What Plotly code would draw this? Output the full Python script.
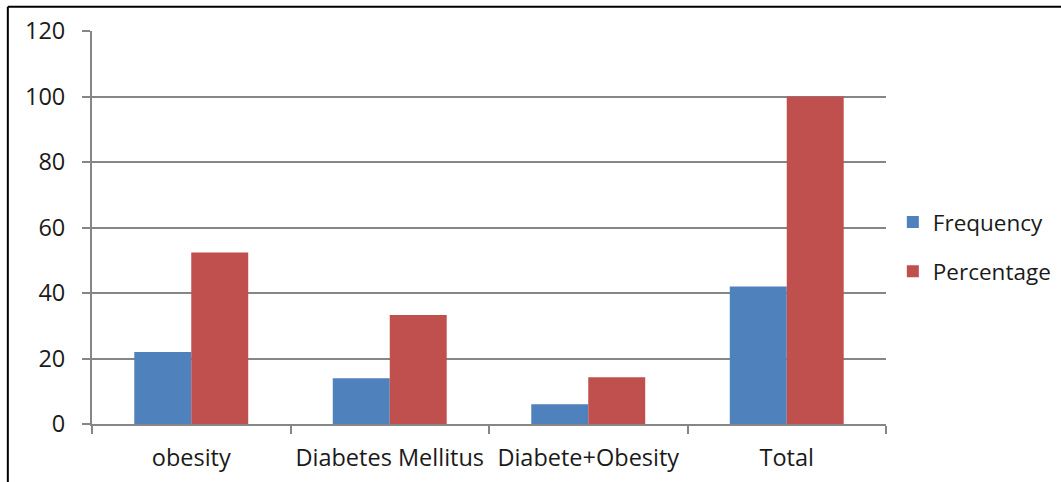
import plotly.graph_objects as go

categories = ["obesity", "Diabetes Mellitus", "Diabete+Obesity", "Total"]
frequency = [22, 14, 6, 42]
percentage = [52.4, 33.3, 14.3, 100]
y_ticks = [0, 20, 40, 60, 80, 100, 120]

BLUE = "#4F81BD"
RED = "#C0504D"
GRID = "#868686"
FONT = "'Open Sans', 'Noto Sans', sans-serif"
FS = 23.5

fig = go.Figure()
fig.add_trace(go.Bar(name="Frequency", x=categories, y=frequency,
                     marker=dict(color=BLUE, line=dict(width=0)),
                     legendgroup="f"))
fig.add_trace(go.Bar(name="Percentage", x=categories, y=percentage,
                     marker=dict(color=RED, line=dict(width=0)),
                     legendgroup="p"))

fig.update_layout(
    width=1061, height=482,
    margin=dict(l=92, r=175, t=31, b=58),
    paper_bgcolor="white", plot_bgcolor="white",
    barmode="group", bargap=0.426, bargroupgap=0,
    font=dict(family=FONT, size=FS, color="#1a1a1a"),
    showlegend=True,
    legend=dict(xref="container", yref="container",
                x=0.8415, xanchor="left", y=0.488, yanchor="middle",
                traceorder="grouped", tracegroupgap=17,
                font=dict(size=22.5), bgcolor="rgba(0,0,0,0)"),
    xaxis=dict(showline=True, linecolor=GRID, linewidth=2,
               ticks="outside", tickson="boundaries", ticklen=8,
               tickcolor=GRID, tickwidth=2, showgrid=False,
               tickangle=0, automargin=False,
               ticklabelstandoff=12, tickfont=dict(size=FS)),
    yaxis=dict(range=[0, 120], tickvals=y_ticks, showline=True,
               linecolor=GRID, linewidth=2, showgrid=True,
               gridcolor=GRID, gridwidth=2, ticks="outside",
               ticklen=8, tickcolor=GRID, tickwidth=2, zeroline=False,
               automargin=False,
               ticklabelstandoff=12, tickfont=dict(size=FS)),
)

# frame lines along the top and left edge of the page
fig.add_shape(type="line", xref="paper", yref="paper",
              x0=-0.106, x1=1.25, y0=1.0618, y1=1.0618,
              line=dict(color="black", width=2))
fig.add_shape(type="line", xref="paper", yref="paper",
              x0=-0.106, x1=-0.106, y0=1.0618, y1=-0.16,
              line=dict(color="black", width=2))

fig.write_html("out.html")
